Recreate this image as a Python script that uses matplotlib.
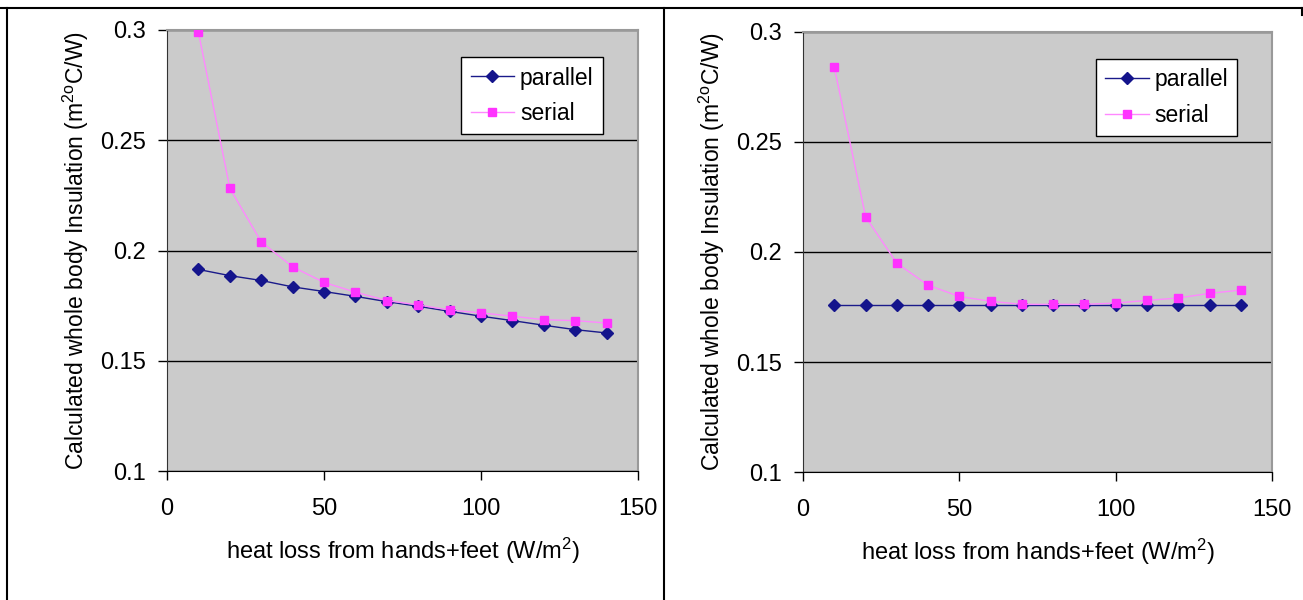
import matplotlib.pyplot as plt
from matplotlib.lines import Line2D

plt.rcParams['font.family'] = ['Liberation Sans', 'DejaVu Sans']
plt.rcParams['mathtext.fontset'] = 'custom'
plt.rcParams['mathtext.rm'] = 'Liberation Sans'
plt.rcParams['mathtext.it'] = 'Liberation Sans'

# heat loss from hands+feet (W/m2)
heat_loss = [10, 20, 30, 40, 50, 60, 70, 80, 90, 100, 110, 120, 130, 140]

# left chart
left_parallel = [0.1914, 0.1886, 0.1864, 0.1835, 0.1814, 0.1792, 0.1768,
                 0.1747, 0.1724, 0.1702, 0.1682, 0.1661, 0.1641, 0.1626]
left_serial = [0.2989, 0.2282, 0.2039, 0.1926, 0.1855, 0.1811, 0.1773,
               0.1753, 0.1730, 0.1717, 0.1702, 0.1686, 0.1682, 0.1671]

# right chart
right_parallel = [0.1757] * 14
right_serial = [0.2839, 0.2160, 0.1949, 0.1849, 0.1798, 0.1776, 0.1762,
                0.1762, 0.1762, 0.1768, 0.1780, 0.1791, 0.1812, 0.1827]

xticks = [0, 50, 100, 150]
yticks = [0.1, 0.15, 0.2, 0.25, 0.3]
ytick_labels = ["0.1", "0.15", "0.2", "0.25", "0.3"]

xlabel = r"heat loss from hands+feet (W/m$^2$)"
ylabel = r"Calculated whole body Insulation (m$^{2o}$C/W)"


def draw_panel(ax, parallel, serial):
    ax.set_facecolor("#cbcbcb")
    ax.plot(heat_loss, parallel, color="#1a1a8a", lw=1, marker="D",
            markersize=6, markerfacecolor="#14148c", markeredgecolor="#14148c",
            label="parallel", zorder=3)
    ax.plot(heat_loss, serial, color="#ff88ff", lw=1, marker="s",
            markersize=6, markerfacecolor="#ff33ff", markeredgecolor="#ff33ff",
            label="serial", zorder=4)
    ax.set_xlim(0, 150)
    ax.set_ylim(0.1, 0.3)
    ax.set_xticks(xticks)
    ax.set_yticks(yticks)
    ax.set_yticklabels(ytick_labels)
    ax.yaxis.grid(True, color="black", lw=1)
    ax.set_axisbelow(True)
    for s in ["top", "right"]:
        ax.spines[s].set_color("#999999")
        ax.spines[s].set_linewidth(1.5)
    ax.spines["left"].set_color("#333333")
    ax.spines["bottom"].set_color("black")
    ax.tick_params(axis="both", labelsize=17, direction="out", length=6.5,
                   width=1, colors="black")
    ax.tick_params(axis="y", pad=9)
    ax.tick_params(axis="x", pad=13)
    ax.set_xlabel(xlabel, fontsize=17, labelpad=11)
    ax.set_ylabel(ylabel, fontsize=16.5, labelpad=6)
    leg = ax.legend(loc="upper left", bbox_to_anchor=(0.625, 0.938),
                    fontsize=16.5, frameon=True, fancybox=False,
                    edgecolor="black", framealpha=1, handlelength=1.9,
                    borderpad=0.4, labelspacing=0.55, handletextpad=0.25,
                    borderaxespad=0)
    leg.get_frame().set_linewidth(1)


fig = plt.figure(figsize=(13.03, 6.0), dpi=100)
ax1 = fig.add_axes([0.1282, 0.215, 0.3615, 0.735])
ax2 = fig.add_axes([0.6163, 0.2133, 0.36, 0.7334])
draw_panel(ax1, left_parallel, left_serial)
draw_panel(ax2, right_parallel, right_serial)

# panel frames
W, H = 1303.0, 600.0
frame = [((0, 1303), (592, 592)), ((7, 7), (0, 592)), ((664, 664), (0, 592)),
         ((1302, 1302), (585, 592))]
for xs, ys in frame:
    fig.add_artist(Line2D([x / W for x in xs], [y / H for y in ys],
                          color="black", lw=1.5))

fig.savefig("out.png", dpi=100)
